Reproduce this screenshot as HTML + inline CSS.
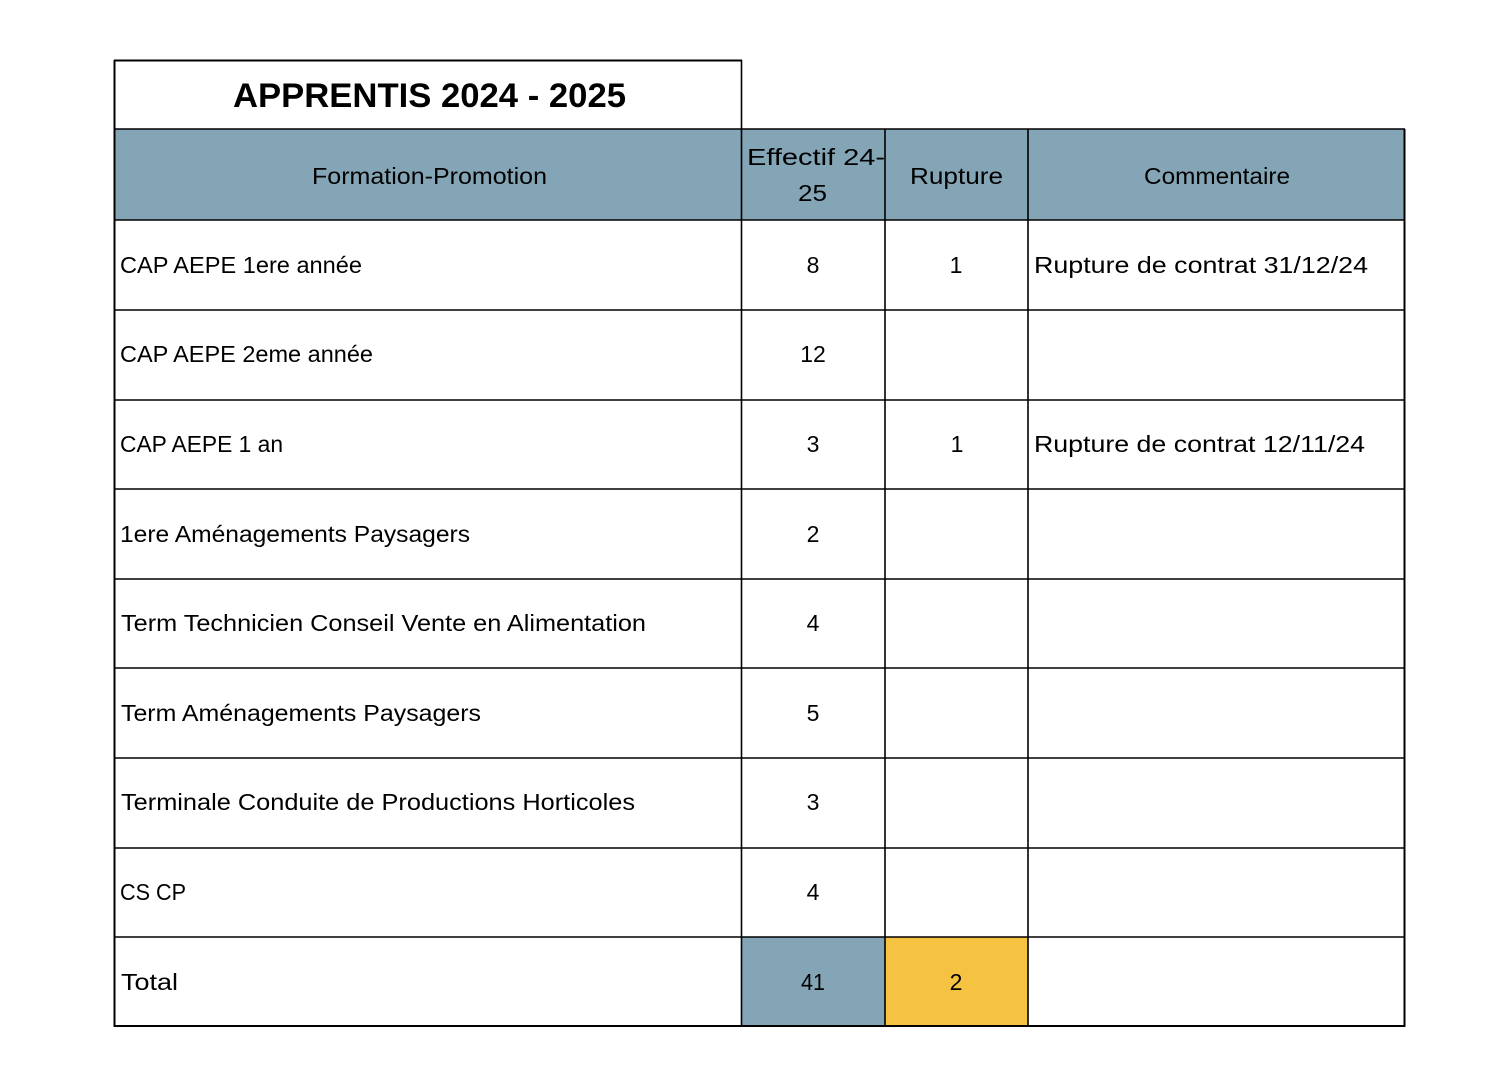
<!DOCTYPE html>
<html><head><meta charset="utf-8">
<style>
html,body{margin:0;padding:0;background:#fff;}
svg{display:block;}
text{font-family:"Liberation Sans",sans-serif;fill:#000;}
</style></head>
<body>
<svg width="1506" height="1086" viewBox="0 0 1506 1086" xmlns="http://www.w3.org/2000/svg">
<rect x="0" y="0" width="1506" height="1086" fill="#fff"/>
<!-- header fill -->
<rect x="114" y="129" width="1291" height="91" fill="#84a5b6"/>
<!-- total fills -->
<rect x="741" y="937" width="144" height="89" fill="#84a5b6"/>
<rect x="885" y="937" width="143" height="89" fill="#f5c242"/>
<g stroke="#000" stroke-width="1.6" fill="none">
<!-- title box -->
<line x1="114" y1="60.5" x2="742" y2="60.5" stroke-width="2"/>
<line x1="114" y1="129" x2="1405" y2="129"/>
<line x1="114" y1="220" x2="1405" y2="220"/>
<line x1="114" y1="310" x2="1405" y2="310"/>
<line x1="114" y1="400" x2="1405" y2="400"/>
<line x1="114" y1="489" x2="1405" y2="489"/>
<line x1="114" y1="579" x2="1405" y2="579"/>
<line x1="114" y1="668" x2="1405" y2="668"/>
<line x1="114" y1="758" x2="1405" y2="758"/>
<line x1="114" y1="848" x2="1405" y2="848"/>
<line x1="114" y1="937" x2="1405" y2="937"/>
<line x1="114" y1="1026" x2="1405" y2="1026" stroke-width="2"/>
<line x1="114.5" y1="60" x2="114.5" y2="1027" stroke-width="2"/>
<line x1="741.5" y1="60" x2="741.5" y2="1026"/>
<line x1="885" y1="129" x2="885" y2="1026"/>
<line x1="1028" y1="129" x2="1028" y2="1026"/>
<line x1="1404.5" y1="129" x2="1404.5" y2="1027" stroke-width="2"/>
</g>
<!-- title -->
<text x="233" y="107" font-size="34" font-weight="bold" textLength="393" lengthAdjust="spacingAndGlyphs">APPRENTIS 2024 - 2025</text>
<!-- header -->
<text x="312" y="184" font-size="23" textLength="235" lengthAdjust="spacingAndGlyphs">Formation-Promotion</text>
<text x="747" y="165" font-size="23" textLength="138" lengthAdjust="spacingAndGlyphs">Effectif 24-</text>
<text x="798" y="201" font-size="23" textLength="29" lengthAdjust="spacingAndGlyphs">25</text>
<text x="910" y="184" font-size="23" textLength="93" lengthAdjust="spacingAndGlyphs">Rupture</text>
<text x="1144" y="184" font-size="23" textLength="146" lengthAdjust="spacingAndGlyphs">Commentaire</text>
<!-- rows -->
<g font-size="23">
<text x="120" y="273" textLength="242" lengthAdjust="spacingAndGlyphs">CAP AEPE 1ere année</text>
<text x="120" y="362" textLength="253" lengthAdjust="spacingAndGlyphs">CAP AEPE 2eme année</text>
<text x="120" y="452" textLength="163" lengthAdjust="spacingAndGlyphs">CAP AEPE 1 an</text>
<text x="120" y="542" textLength="350" lengthAdjust="spacingAndGlyphs">1ere Aménagements Paysagers</text>
<text x="121" y="631" textLength="525" lengthAdjust="spacingAndGlyphs">Term Technicien Conseil Vente en Alimentation</text>
<text x="121" y="721" textLength="360" lengthAdjust="spacingAndGlyphs">Term Aménagements Paysagers</text>
<text x="121" y="810" textLength="514" lengthAdjust="spacingAndGlyphs">Terminale Conduite de Productions Horticoles</text>
<text x="120" y="900" textLength="66" lengthAdjust="spacingAndGlyphs">CS CP</text>
<text x="121" y="990" textLength="57" lengthAdjust="spacingAndGlyphs">Total</text>
</g>
<g font-size="23" text-anchor="middle">
<text x="813" y="273">8</text>
<text x="956" y="273">1</text>
<text x="813" y="362">12</text>
<text x="813" y="452">3</text>
<text x="957" y="452">1</text>
<text x="813" y="542">2</text>
<text x="813" y="631">4</text>
<text x="813" y="721">5</text>
<text x="813" y="810">3</text>
<text x="813" y="900">4</text>
<text x="813" y="990" textLength="24" lengthAdjust="spacingAndGlyphs">41</text>
<text x="956" y="990">2</text>
</g>
<g font-size="23">
<text x="1034" y="273" textLength="334" lengthAdjust="spacingAndGlyphs">Rupture de contrat 31/12/24</text>
<text x="1034" y="452" textLength="331" lengthAdjust="spacingAndGlyphs">Rupture de contrat 12/11/24</text>
</g>
</svg>
</body></html>
